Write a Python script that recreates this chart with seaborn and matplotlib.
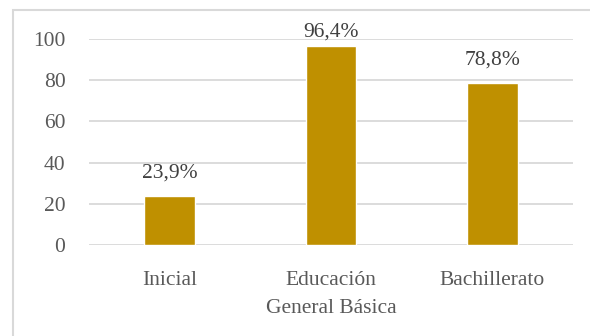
import matplotlib
matplotlib.use("Agg")
import matplotlib.pyplot as plt
import seaborn as sns
import pandas as pd
from matplotlib.patches import Rectangle

categories = ["Inicial", "Educación\nGeneral Básica", "Bachillerato"]
values = [23.9, 96.4, 78.8]
labels = ["23,9%", "96,4%", "78,8%"]
yticks = [0, 20, 40, 60, 80, 100]

sns.set_theme(style="white")
plt.rcParams['font.family'] = ['Liberation Serif', 'DejaVu Serif']

df = pd.DataFrame({"cat": categories, "val": values})

fig = plt.figure(figsize=(5.9, 3.36), dpi=100)
ax = fig.add_axes([89/590, 1-245/336, (573-89)/590, (245-39)/336])
sns.barplot(data=df, x="cat", y="val", color="#BF9000", width=0.315,
            saturation=1, ax=ax, zorder=3)
ax.set_ylim(0, 100)
ax.set_yticks(yticks)
ax.set_xlim(-0.5, 2.5)
ax.yaxis.grid(True, color="#D9D9D9", linewidth=1.3, zorder=0)
ax.set_axisbelow(True)
for s in ax.spines.values():
    s.set_visible(False)
ax.set_xlabel("")
ax.set_ylabel("")
ax.tick_params(axis="y", length=0, pad=17, labelsize=15.5, labelcolor="#595959")
ax.tick_params(axis="x", length=0, pad=19, labelsize=15.5, labelcolor="#595959")
for lab in ax.get_xticklabels():
    lab.set_linespacing(1.6)
for i, (v, t) in enumerate(zip(values, labels)):
    ax.text(i, min(v + 9, 101), t, ha="center", va="baseline", fontsize=15.5,
            color="#404040", clip_on=False)

fig.patches.append(Rectangle((13/590, -0.1), 1.0, 1 - 10/336 + 0.1, transform=fig.transFigure,
                             fill=False, edgecolor="#D9D9D9", linewidth=1.5))
fig.savefig("out.png", dpi=100, facecolor="white")
